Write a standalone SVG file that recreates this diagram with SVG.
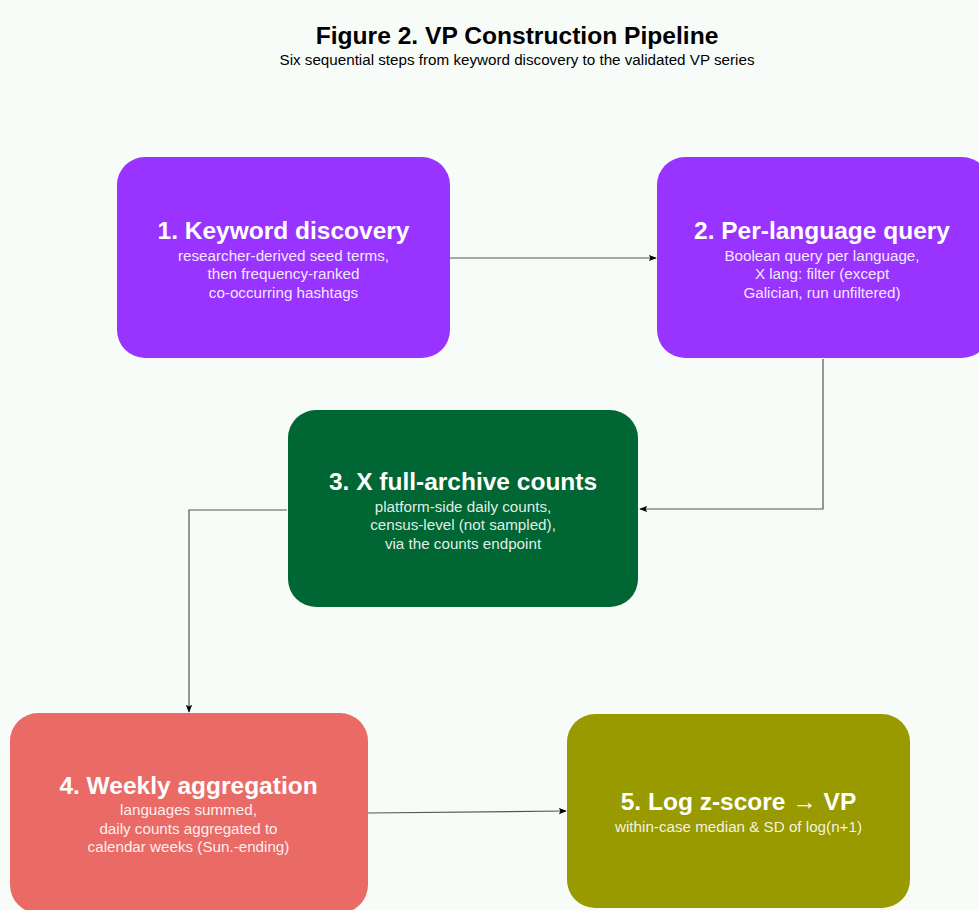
<svg xmlns="http://www.w3.org/2000/svg" width="979" height="910" viewBox="0 0 979 910">
<defs>
<style>
.title{font-family:"Liberation Sans",Arial,sans-serif;font-weight:bold;font-size:24.6px;fill:#000;text-anchor:middle}
.sub{font-family:"Liberation Sans",Arial,sans-serif;font-size:15.2px;fill:#000;text-anchor:middle}
.nt{font-family:"Liberation Sans",Arial,sans-serif;font-weight:bold;font-size:24.5px;fill:#fff;text-anchor:middle}
.nb{font-family:"Liberation Sans",Arial,sans-serif;font-size:15.2px;fill:#fff;fill-opacity:0.9;text-anchor:middle}
.edge{fill:none;stroke:#555;stroke-width:1.2}
</style>
<marker id="ah" viewBox="0 0 10 10" refX="9" refY="5" markerWidth="8" markerHeight="8" orient="auto" markerUnits="userSpaceOnUse">
<path d="M0,1 L10,5 L0,9 L2,5 Z" fill="#000"/>
</marker>
</defs>
<rect width="979" height="910" fill="#f8fcf8"/>
<text class="title" x="517" y="44">Figure 2. VP Construction Pipeline</text>
<text class="sub" x="517" y="65">Six sequential steps from keyword discovery to the validated VP series</text>

<g id="connectors">
<path class="edge" d="M450,258 L656,258" marker-end="url(#ah)"/>
<path class="edge" d="M823,359 L823,509 L640,509" marker-end="url(#ah)"/>
<path class="edge" d="M287,510 L189,510 L189,712" marker-end="url(#ah)"/>
<path class="edge" d="M368,813 L566,811" marker-end="url(#ah)"/>
</g>

<g id="node1">
<rect x="117" y="157" width="333" height="201" rx="28" fill="#9933ff"/>
<text class="nt" x="283.5" y="238.5">1. Keyword discovery</text>
<text class="nb" x="283.5" y="260.5">researcher-derived seed terms,</text>
<text class="nb" x="283.5" y="279">then frequency-ranked</text>
<text class="nb" x="283.5" y="297.5">co-occurring hashtags</text>
</g>

<g id="node2">
<rect x="657" y="157" width="333" height="201" rx="28" fill="#9933ff"/>
<text class="nt" x="822" y="238.5">2. Per-language query</text>
<text class="nb" x="822" y="260.5">Boolean query per language,</text>
<text class="nb" x="822" y="279">X lang: filter (except</text>
<text class="nb" x="822" y="297.5">Galician, run unfiltered)</text>
</g>

<g id="node3">
<rect x="288" y="410" width="350" height="197" rx="28" fill="#006633"/>
<text class="nt" x="463" y="490">3. X full-archive counts</text>
<text class="nb" x="463" y="511.5">platform-side daily counts,</text>
<text class="nb" x="463" y="530">census-level (not sampled),</text>
<text class="nb" x="463" y="548.5">via the counts endpoint</text>
</g>

<g id="node4">
<rect x="10" y="713" width="358" height="200" rx="28" fill="#ea6b66"/>
<text class="nt" x="188.5" y="794">4. Weekly aggregation</text>
<text class="nb" x="188.5" y="815">languages summed,</text>
<text class="nb" x="188.5" y="833.5">daily counts aggregated to</text>
<text class="nb" x="188.5" y="852">calendar weeks (Sun.-ending)</text>
</g>

<g id="node5">
<rect x="567" y="714" width="343" height="194" rx="28" fill="#999900"/>
<text class="nt" x="738.5" y="810">5. Log z-score → VP</text>
<text class="nb" x="738.5" y="831.5">within-case median &amp; SD of log(n+1)</text>
</g>
</svg>
